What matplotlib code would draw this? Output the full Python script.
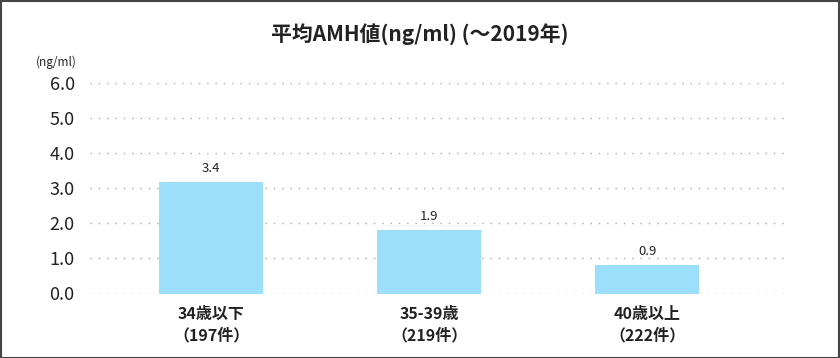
import matplotlib
matplotlib.use("Agg")
import matplotlib.pyplot as plt
from matplotlib.patches import Rectangle

plt.rcParams['font.family'] = ['Noto Sans CJK JP', 'DejaVu Sans']

categories = ["34歳以下\n（197件）", "35-39歳\n（219件）", "40歳以上\n（222件）"]
bar_heights = [3.18, 1.82, 0.82]
value_labels = ["3.4", "1.9", "0.9"]
yticks = [0, 1, 2, 3, 4, 5, 6]
ytick_labels = ["0.0", "1.0", "2.0", "3.0", "4.0", "5.0", "6.0"]
title = "平均AMH値(ng/ml) (〜2019年)"
unit = "(ng/ml)"

W, H = 840, 358
fig = plt.figure(figsize=(W / 100, H / 100), dpi=100)
fig.patch.set_facecolor("white")

# axes: x from 90 to 789 px, y from 293 (0) to 83 (6)
left, right = 90 / W, 789 / W
bottom, top = 1 - 293.5 / H, 1 - 83 / H
ax = fig.add_axes([left, bottom, right - left, top - bottom])

x = list(range(len(categories)))
ax.bar(x, bar_heights, width=0.477, color="#9BDFFA", zorder=2)
ax.set_xlim(-0.555, 2.65)
ax.set_ylim(0, 6)

for xi, h, lab in zip(x, bar_heights, value_labels):
    ax.annotate(lab, (xi, h), xytext=(0, 5), textcoords="offset points",
                ha="center", va="bottom", fontsize=9.5, color="#222222")

for s in ax.spines.values():
    s.set_visible(False)
ax.set_yticks(yticks)
ax.set_yticklabels(ytick_labels, fontsize=13, color="#222222")
ax.tick_params(axis="y", length=0, pad=11)
ax.yaxis.grid(True, linestyle=(0, (1, 5)), color="#aaaaaa", linewidth=1.0)
ax.set_axisbelow(True)
ax.set_xticks(x)
ax.set_xticklabels(categories, fontsize=11.5, fontweight="bold", color="#222222",
                   linespacing=1.45)
ax.tick_params(axis="x", length=0, pad=9)
ax.set_facecolor("none")

fig.text(420 / W, 1 - 35 / H, title, ha="center", va="center",
         fontsize=15, fontweight="bold", color="#222222")
fig.text(56 / W, 1 - 62 / H, unit, ha="center", va="center",
         fontsize=8.5, color="#222222")

fig.add_artist(Rectangle((0.5 / W, 0.5 / H), 1 - 1.5 / W, 1 - 1.5 / H,
                         transform=fig.transFigure, fill=False,
                         edgecolor="#444444", linewidth=1.5))

fig.savefig("out.png", dpi=100, facecolor="white")
